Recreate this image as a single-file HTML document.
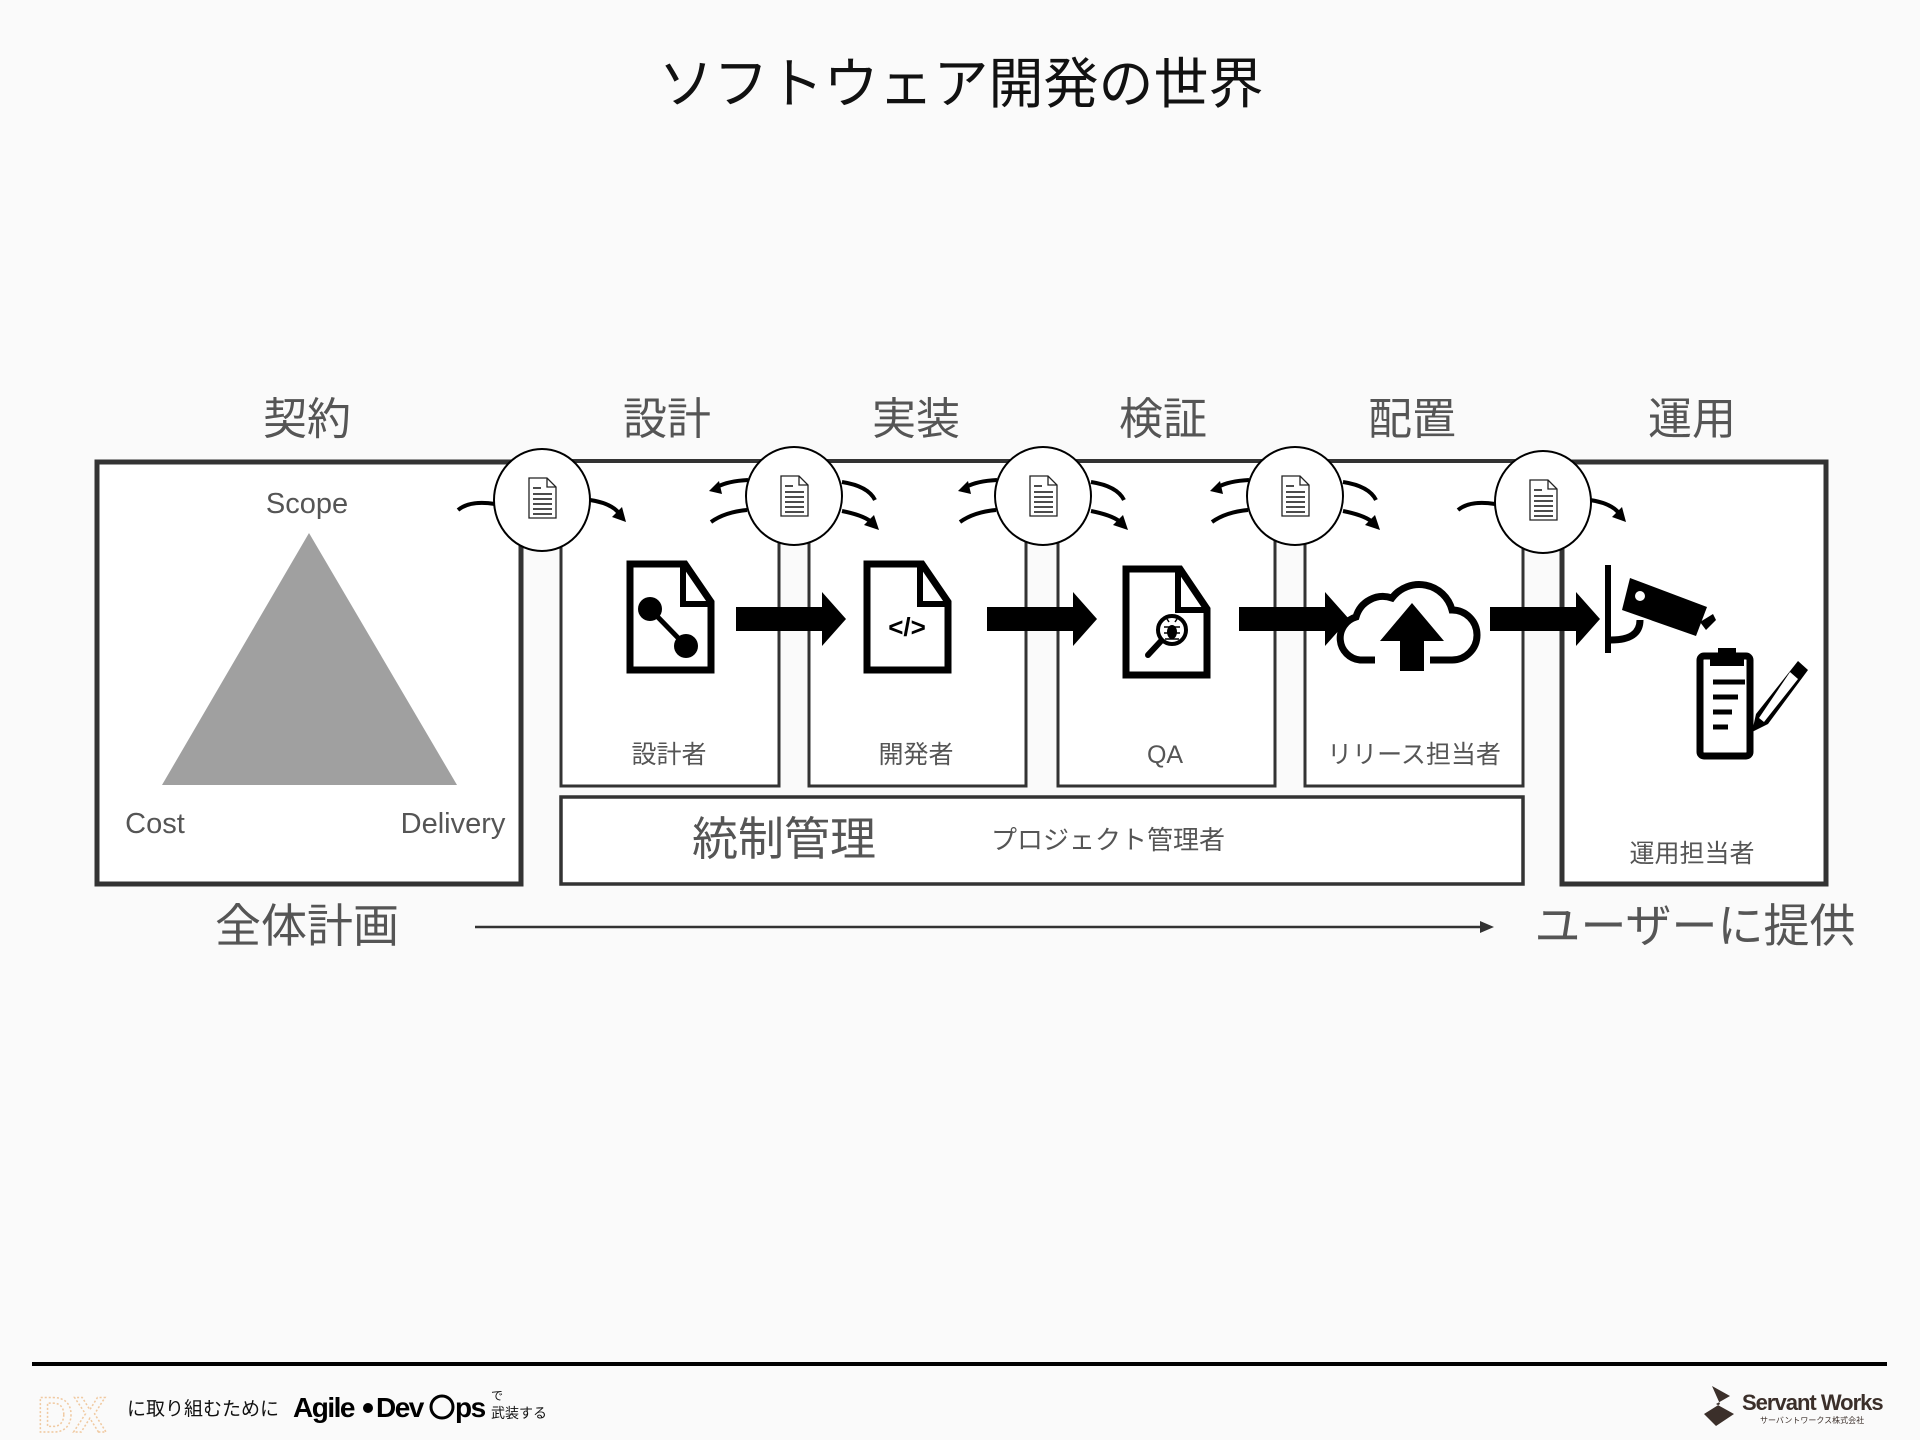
<!DOCTYPE html>
<html><head><meta charset="utf-8"><style>
html,body{margin:0;padding:0;background:#fafafa;}
svg{display:block;}
text{font-family:"Liberation Sans","Noto Sans CJK JP",sans-serif;}
</style></head><body>
<svg width="1920" height="1440" viewBox="0 0 1920 1440" xmlns="http://www.w3.org/2000/svg">
<defs>
<g id="doc">
<path d="M-13,-20 H5 L14,-11 V20 H-13 Z" fill="#fff" stroke="#222" stroke-width="1.3"/>
<path d="M5,-20 V-11 H14" fill="none" stroke="#222" stroke-width="1.3"/>
<g stroke="#111" stroke-width="1.5"><line x1="-9" y1="-10" x2="-1" y2="-10"/><line x1="-9" y1="-4" x2="10" y2="-4"/><line x1="-9" y1="1" x2="10" y2="1"/><line x1="-9" y1="6" x2="10" y2="6"/><line x1="-9" y1="11" x2="10" y2="11"/><line x1="-9" y1="16" x2="10" y2="16"/></g>
</g>
<path id="barr" d="M0,-12 H86 V-27 L110,0 L86,27 V12 H0 Z" fill="#000"/>
</defs>
<rect width="1920" height="1440" fill="#fafafa"/>
<text x="961" y="103" font-size="55" text-anchor="middle" fill="#111">ソフトウェア開発の世界</text>
<g font-size="44" fill="#555" text-anchor="middle">
<text x="307" y="434">契約</text><text x="667" y="434">設計</text><text x="916" y="434">実装</text><text x="1163" y="434">検証</text><text x="1412" y="434">配置</text><text x="1692" y="434">運用</text>
</g>
<!-- middle frame -->
<rect x="522" y="461" width="1039" height="325" fill="#fff"/>
<g fill="#fafafa">
<rect x="522" y="500" width="39" height="290"/>
<rect x="779" y="500" width="30" height="290"/>
<rect x="1026" y="500" width="32" height="290"/>
<rect x="1275" y="500" width="30" height="290"/>
<rect x="1523" y="500" width="38" height="290"/>
</g>
<line x1="522" y1="461" x2="1561" y2="461" stroke="#333" stroke-width="4"/>
<g stroke="#333" stroke-width="3" fill="none">
<path d="M561,500 V786 H779 V500"/>
<path d="M809,500 V786 H1026 V500"/>
<path d="M1058,500 V786 H1275 V500"/>
<path d="M1305,500 V786 H1523 V500"/>
</g>
<!-- left box -->
<rect x="97" y="462" width="424" height="422" fill="#fff" stroke="#333" stroke-width="5"/>
<polygon points="309,533 162,785 457,785" fill="#a0a0a0"/>
<g font-size="29" fill="#555" text-anchor="middle"><text x="307" y="513">Scope</text><text x="155" y="833">Cost</text><text x="453" y="833">Delivery</text></g>
<!-- ops box -->
<rect x="1562" y="462" width="264" height="422" fill="#fff" stroke="#333" stroke-width="5"/>
<!-- control box -->
<rect x="561" y="797" width="962" height="87" fill="#fff" stroke="#333" stroke-width="3.5"/>
<text x="784" y="855" font-size="46" fill="#555" text-anchor="middle">統制管理</text>
<text x="1108" y="849" font-size="26" fill="#555" text-anchor="middle">プロジェクト管理者</text>
<g font-size="25" fill="#555" text-anchor="middle"><text x="669" y="763">設計者</text><text x="916" y="763">開発者</text><text x="1165" y="763">QA</text><text x="1414" y="763">リリース担当者</text><text x="1692" y="862">運用担当者</text></g>
<!-- bottom row -->
<text x="307" y="942" font-size="46" fill="#555" text-anchor="middle">全体計画</text>
<line x1="475" y1="927" x2="1488" y2="927" stroke="#333" stroke-width="2.5"/>
<polygon points="1494,927 1480,921 1480,933" fill="#333"/>
<text x="1695" y="942" font-size="46" fill="#555" text-anchor="middle">ユーザーに提供</text>
<!-- curved arrows -->
<g fill="none" stroke="#000" stroke-width="4">
<path d="M495,504 Q470,500 458,510"/><path d="M590,500 Q610,503 618,512"/>
<g id="cv"><path d="M748,480 Q728,481 717,487"/><path d="M747,510 Q725,512 711,522"/><path d="M842,482 Q868,486 875,500"/><path d="M842,511 Q862,515 870,521"/></g>
<use href="#cv" x="249"/><use href="#cv" x="501"/>
<path d="M1495,504 Q1470,500 1458,510"/><path d="M1590,500 Q1610,503 1618,512"/>
</g>
<g fill="#000">
<polygon id="hr" points="612,517 626,522 622,507"/>
<polygon id="hl" points="709,491 722,494 719,481"/>
<polygon id="hr2" points="864,525 879,530 874,515"/>
<use href="#hl" x="249"/><use href="#hl" x="501"/>
<use href="#hr2" x="249"/><use href="#hr2" x="501"/>
<use href="#hr" x="1000"/>
</g>
<!-- circles -->
<g fill="#fff" stroke="#000" stroke-width="2">
<ellipse cx="542" cy="500" rx="48" ry="51"/><ellipse cx="794" cy="496" rx="48" ry="49"/><ellipse cx="1043" cy="496" rx="48" ry="49"/><ellipse cx="1295" cy="496" rx="48" ry="49"/><ellipse cx="1543" cy="502" rx="48" ry="51"/>
</g>
<use href="#doc" x="542" y="498"/><use href="#doc" x="794" y="496"/><use href="#doc" x="1043" y="496"/><use href="#doc" x="1295" y="496"/><use href="#doc" x="1543" y="500"/>
<!-- block arrows -->
<use href="#barr" x="736" y="619"/><use href="#barr" x="987" y="619"/><use href="#barr" x="1239" y="619"/><use href="#barr" x="1490" y="619"/>
<!-- doc icon 1 -->
<path d="M630,564 H685 L711,602 V670 H630 Z" fill="none" stroke="#000" stroke-width="7"/>
<path d="M683,564 V604 H711" fill="none" stroke="#000" stroke-width="6"/>
<line x1="650" y1="609" x2="685" y2="645" stroke="#000" stroke-width="5"/>
<circle cx="650" cy="609" r="12"/><circle cx="686" cy="646" r="12"/>
<!-- doc icon 2 -->
<path d="M867,564 H922 L948,602 V670 H867 Z" fill="none" stroke="#000" stroke-width="7"/>
<path d="M920,564 V604 H948" fill="none" stroke="#000" stroke-width="6"/>
<text x="907" y="636" font-size="26" font-weight="bold" text-anchor="middle" fill="#000">&lt;/&gt;</text>
<!-- doc icon 3 bug -->
<path d="M1126,569 H1180 L1207,609 V675 H1126 Z" fill="none" stroke="#000" stroke-width="7"/>
<path d="M1178,569 V610 H1207" fill="none" stroke="#000" stroke-width="6"/>
<circle cx="1172" cy="630" r="14" fill="none" stroke="#000" stroke-width="4"/>
<line x1="1161" y1="641" x2="1148" y2="655" stroke="#000" stroke-width="6" stroke-linecap="round"/>
<ellipse cx="1172" cy="632" rx="5" ry="7"/>
<g stroke="#000" stroke-width="1.5"><line x1="1164" y1="627" x2="1180" y2="627"/><line x1="1164" y1="633" x2="1180" y2="633"/><line x1="1165" y1="639" x2="1179" y2="639"/><line x1="1169" y1="622" x2="1167" y2="619"/><line x1="1175" y1="622" x2="1177" y2="619"/></g>
<!-- cloud -->
<path d="M1375,660 H1360 A22,22 0 0 1 1356,617 A28,28 0 0 1 1392,598 A34,34 0 0 1 1452,610 A24,24 0 0 1 1452,660 H1430" fill="none" stroke="#000" stroke-width="7"/>
<path d="M1400,671 V641 H1380 L1412,603 L1444,641 H1424 V671 Z" fill="#000"/>
<!-- camera -->
<rect x="1605" y="565" width="6" height="88" fill="#000"/>
<path d="M1630,578 L1707,607 L1696,636 L1622,610 Z" fill="#000"/>
<path d="M1640,620 Q1640,640 1611,640" fill="none" stroke="#000" stroke-width="7"/>
<circle cx="1640" cy="596" r="5" fill="#fff"/>
<path d="M1700,622 L1713,614 L1716,620 L1706,630 Z" fill="#000"/>
<!-- clipboard -->
<rect x="1700" y="656" width="50" height="100" rx="4" fill="none" stroke="#000" stroke-width="7"/>
<rect x="1718" y="648" width="18" height="14" fill="#000"/>
<rect x="1710" y="658" width="34" height="8" fill="#000"/>
<g stroke="#000" stroke-width="5"><line x1="1713" y1="682" x2="1745" y2="682"/><line x1="1713" y1="697" x2="1738" y2="697"/><line x1="1713" y1="712" x2="1732" y2="712"/><line x1="1713" y1="727" x2="1728" y2="727"/></g>
<path d="M1798,661 L1808,670 L1768,724 L1752,732 L1756,714 Z" fill="#000"/>
<path d="M1790,672 L1798,679 L1764,722 L1759,718 Z" fill="#fff"/>
<!-- footer -->
<line x1="32" y1="1364" x2="1887" y2="1364" stroke="#000" stroke-width="4"/>
<text x="37" y="1432" font-size="50" font-weight="bold" fill="none" stroke="#f0c9a0" stroke-width="1.5" stroke-dasharray="2 2">DX</text>
<text x="127" y="1415" font-size="19" fill="#111">に取り組むために</text>
<text x="293" y="1417" font-size="28" font-weight="bold" fill="#000" letter-spacing="-1.5">Agile</text>
<circle cx="368" cy="1408" r="5" fill="#000"/>
<text x="376" y="1417" font-size="28" font-weight="bold" fill="#000" letter-spacing="-1.5">Dev</text>
<circle cx="442" cy="1407" r="11" fill="none" stroke="#000" stroke-width="3"/>
<text x="455" y="1417" font-size="28" font-weight="bold" fill="#000" letter-spacing="-1.5">ps</text>
<text x="491" y="1400" font-size="12" fill="#111">で</text>
<text x="491" y="1418" font-size="14" fill="#111">武装する</text>
<path d="M1712,1386 L1730,1396 L1716,1404 L1734,1414 L1716,1426 L1704,1414 L1720,1404 Z" fill="#3b2f2a"/>
<text x="1742" y="1410" font-size="22" font-weight="bold" fill="#3b2f2a" letter-spacing="-1">Servant Works</text>
<text x="1760" y="1423" font-size="8" fill="#3b2f2a">サーバントワークス株式会社</text>
</svg>
</body></html>
